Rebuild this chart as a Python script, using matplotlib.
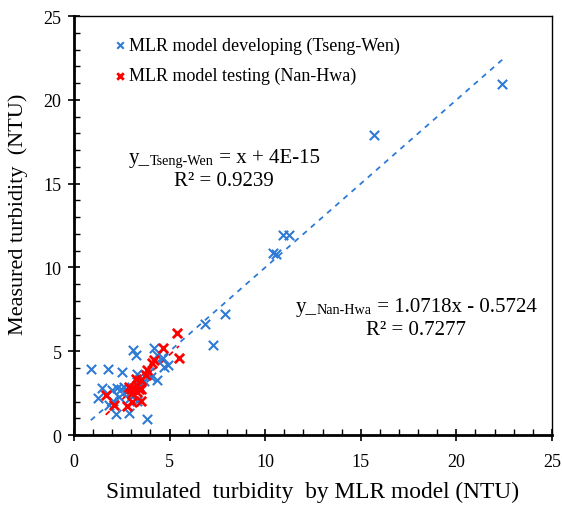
import numpy as np
import matplotlib.pyplot as plt
from matplotlib.ticker import MultipleLocator
from matplotlib.offsetbox import TextArea, HPacker, VPacker, AnnotationBbox

plt.rcParams['font.family'] = 'Liberation Serif'

# Tseng-Wen (model developing): simulated vs measured turbidity (NTU)
tw_sim = [0.88, 1.80, 2.53, 3.10, 3.23, 4.18, 4.32, 4.67, 4.91, 4.70,
          3.31, 4.01, 4.32, 3.66, 1.49, 1.23, 2.01, 2.23, 2.44, 2.62,
          2.36, 2.88, 3.14, 1.83, 2.18, 2.88, 3.80, 3.40, 3.49, 2.97,
          3.92, 2.76, 2.06, 3.31, 6.87, 7.28, 7.88, 10.41, 10.55, 10.94,
          11.25, 15.70, 22.40]
tw_meas = [3.92, 3.92, 3.76, 5.06, 4.76, 5.22, 4.80, 4.60, 4.20, 4.04,
           3.66, 3.46, 3.30, 3.20, 2.80, 2.20, 2.66, 2.80, 2.76, 2.86,
           2.26, 2.16, 2.36, 1.80, 1.26, 1.32, 0.96, 2.92, 3.36, 2.56,
           3.76, 2.60, 2.06, 2.06, 6.63, 5.36, 7.22, 10.85, 10.80, 11.92,
           11.92, 17.93, 20.95]

# Nan-Hwa (model testing)
nh_sim = [5.37, 5.49, 4.67, 4.10, 4.18, 3.83, 3.75, 3.49, 3.31, 2.97,
          3.14, 3.40, 3.05, 3.31, 1.66, 2.10, 2.76, 3.05, 3.49, 3.49,
          2.88, 3.23]
nh_meas = [6.10, 4.62, 5.20, 4.32, 4.46, 3.86, 3.56, 3.26, 3.00, 2.76,
           2.80, 2.76, 2.52, 2.56, 2.36, 1.80, 1.72, 1.96, 2.06, 2.72,
           2.86, 3.36]

# trendline coefficients
tw_slope, tw_int = 1.0, 4e-15
nh_slope, nh_int = 1.0718, -0.5724

blue = '#2E7BD6'
red = '#FF0000'

fig = plt.figure(figsize=(5.62, 5.06), dpi=100)
ax = fig.add_axes([0.1317, 0.1383, 0.8503, 0.8277])

ax.scatter(tw_sim, tw_meas, marker='x', s=45, color=blue, linewidths=1.5,
           label='MLR model developing (Tseng-Wen)', zorder=3)
ax.scatter(nh_sim, nh_meas, marker='x', s=45, color=red, linewidths=2.0,
           label='MLR model testing (Nan-Hwa)', zorder=4)

xs = np.array([min(nh_sim), max(nh_sim)])
ax.plot(xs, nh_slope * xs + nh_int, ls=(0, (3, 3)), color=red, lw=1.3, zorder=2)
xs = np.array([min(tw_sim), max(tw_sim)])
ax.plot(xs, tw_slope * xs + tw_int, ls=(0, (3, 3)), color=blue, lw=1.3, zorder=2)

ax.set_xlim(0, 25)
ax.set_ylim(0, 25)
ax.xaxis.set_major_locator(MultipleLocator(5))
ax.yaxis.set_major_locator(MultipleLocator(5))
ax.xaxis.set_minor_locator(MultipleLocator(1))
ax.yaxis.set_minor_locator(MultipleLocator(1))
ax.tick_params(which='major', direction='inout', length=8, width=1.2, labelsize=13)
ax.tick_params(axis='x', which='major', pad=9)
ax.tick_params(axis='y', which='major', pad=5)
ax.tick_params(which='minor', direction='in', length=4, width=1)
for side in ('left', 'bottom'):
    ax.spines[side].set_linewidth(2)
for side in ('top', 'right'):
    ax.spines[side].set_linewidth(1)

ax.set_xlabel('Simulated  turbidity  by MLR model (NTU)', fontsize=16.8, labelpad=8)
ax.set_ylabel('Measured turbidity  (NTU)', fontsize=16)
ax.yaxis.set_label_coords(-0.096, 0.53)

ax.legend(loc='upper left', bbox_to_anchor=(0.055, 0.978), frameon=False,
          fontsize=13, handlelength=1.0, handletextpad=0.0, markerscale=0.7,
          borderaxespad=0.2, labelspacing=0.75)


def eq_block(x, y, sub, rest, r2, size=15):
    # trendline equation with a small series name after "y_", R² below
    line = HPacker(children=[TextArea('y_', textprops=dict(fontsize=size)),
                             TextArea(sub, textprops=dict(fontsize=size * 0.68)),
                             TextArea(rest, textprops=dict(fontsize=size))],
                   align='bottom', pad=0, sep=0)
    block = VPacker(children=[line, TextArea(r2, textprops=dict(fontsize=size))],
                    align='center', pad=0, sep=3)
    ax.add_artist(AnnotationBbox(block, (x, y), frameon=False,
                                 box_alignment=(0.5, 0.5), pad=0))


eq_block(7.85, 15.88, 'Tseng-Wen', ' = x + 4E-15', 'R² = 0.9239')
eq_block(17.9, 7.01, 'Nan-Hwa', ' = 1.0718x - 0.5724', 'R² = 0.7277')

fig.savefig('out.png', dpi=100)
